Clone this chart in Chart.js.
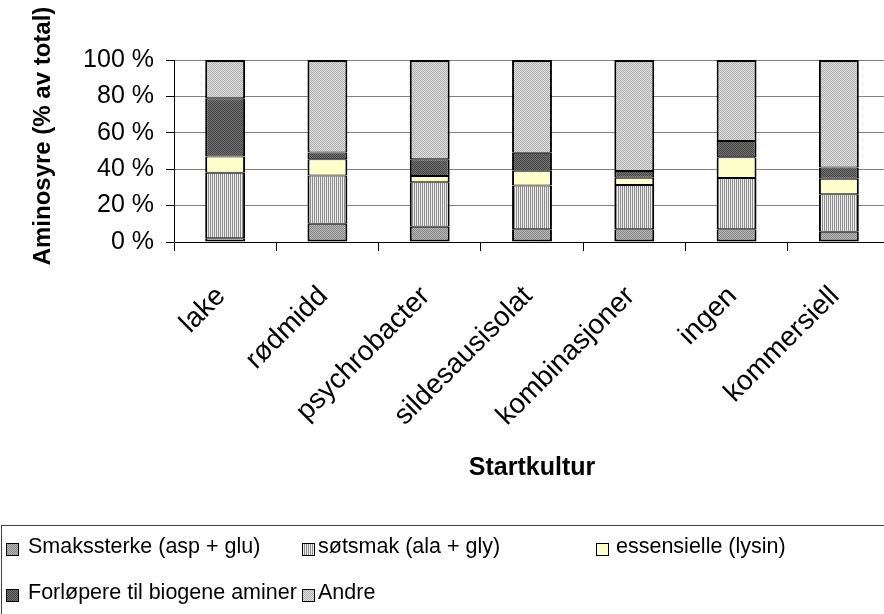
<!DOCTYPE html>
<html>
<head>
<meta charset="utf-8">
<script src="https://cdn.jsdelivr.net/npm/chart.js@4/dist/chart.umd.min.js"></script>
<style>
  html, body { margin: 0; padding: 0; background: #fff; overflow: hidden; }
  #wrap { position: relative; width: 910px; height: 614px; }
</style>
</head>
<body>
<div id="wrap"><canvas id="c" width="910" height="614"></canvas></div>
<script>
// Aminosyrefordeling per startkultur (% av total)
const categories = ['lake', 'rødmidd', 'psychrobacter', 'sildesausisolat', 'kombinasjoner', 'ingen', 'kommersiell'];
const seriesNames = ['Smakssterke (asp + glu)', 'søtsmak (ala + gly)', 'essensielle (lysin)', 'Forløpere til biogene aminer', 'Andre'];
const smakssterke = [2, 10, 8.4, 7, 7, 7, 5.7];
const sotsmak     = [36, 26.5, 24.4, 24.1, 24.3, 28.2, 20.5];
const essensielle = [9, 9, 3.5, 8.1, 4, 11.3, 8.6];
const forlopere   = [32, 3.7, 9.1, 9.9, 3.7, 9, 6.2];
const andre       = [21, 50.8, 54.6, 50.9, 61, 44.5, 59];
const yTicks = [0, 20, 40, 60, 80, 100];
const xTitle = 'Startkultur';
const yTitle = 'Aminosyre (% av total)';

const FONT = '"Liberation Sans", Arial, sans-serif';

// small repeating fills in the old office-chart style
function makePattern(cells) {
  const h = cells.length, w = cells[0].length;
  const cv = document.createElement('canvas');
  cv.width = w; cv.height = h;
  const g = cv.getContext('2d');
  for (let y = 0; y < h; y++) {
    for (let x = 0; x < w; x++) {
      g.fillStyle = cells[y][x];
      g.fillRect(x, y, 1, 1);
    }
  }
  return g.createPattern(cv, 'repeat');
}
const ctx = document.getElementById('c').getContext('2d');
const fills = [
  makePattern([['#888888', '#b8b8b8'], ['#b8b8b8', '#888888']]),
  makePattern([['#8c8c8c', '#eeeeee']]),
  '#ffffcc',
  makePattern([['#444444', '#747474'], ['#747474', '#444444']]),
  makePattern([['#b0b0b0', '#dedede'], ['#dedede', '#b0b0b0']])
];
const seriesData = [smakssterke, sotsmak, essensielle, forlopere, andre];

const datasets = seriesData.map((d, i) => ({
  label: seriesNames[i],
  data: d,
  backgroundColor: fills[i],
  borderColor: '#000',
  borderWidth: {
    left: 2, right: 2,
    top: i === seriesData.length - 1 ? 2 : 1,
    bottom: i === 0 ? 2 : 1
  },
  borderSkipped: false,
  barPercentage: 0.39,
  categoryPercentage: 1.0
}));

// rotated y-axis title
const yTitlePlugin = {
  id: 'yTitle',
  afterDraw(chart) {
    const c = chart.ctx;
    c.save();
    c.translate(43, 136);
    c.rotate(-Math.PI / 2);
    c.font = 'bold 24px ' + FONT;
    c.fillStyle = '#000';
    c.textAlign = 'center';
    c.textBaseline = 'middle';
    c.fillText(yTitle, 0, 0);
    c.restore();
  }
};

// boxed legend laid out in fixed columns below the chart
const legendPlugin = {
  id: 'boxLegend',
  afterDraw(chart) {
    const c = chart.ctx;
    const cols = [{ box: 6, text: 28 }, { box: 302, text: 318 }, { box: 596, text: 616 }];
    const rows = [550, 596];
    c.save();
    c.strokeStyle = '#404040';
    c.lineWidth = 1;
    c.strokeRect(1.5, 525.5, 1200, 300);
    c.font = '21.5px ' + FONT;
    c.textBaseline = 'middle';
    c.textAlign = 'left';
    chart.data.datasets.forEach((ds, i) => {
      const col = cols[i % 3];
      const cy = rows[Math.floor(i / 3)];
      c.fillStyle = ds.backgroundColor;
      c.fillRect(col.box, cy - 7, 13, 13);
      c.strokeStyle = '#000';
      c.strokeRect(col.box + 0.5, cy - 6.5, 12, 12);
      c.fillStyle = '#000';
      c.fillText(ds.label, col.text, cy - 3);
    });
    c.restore();
  }
};

new Chart(ctx, {
  type: 'bar',
  data: { labels: categories, datasets },
  options: {
    responsive: false,
    animation: false,
    layout: { padding: { left: 0, top: 60, right: 20, bottom: 122 } },
    plugins: { legend: { display: false }, tooltip: { enabled: false } },
    scales: {
      x: {
        stacked: true,
        ticks: {
          font: { family: FONT, size: 28 }, color: '#000',
          minRotation: 45, maxRotation: 45, autoSkip: false, padding: 29, labelOffset: -4
        },
        grid: { drawOnChartArea: false, tickColor: '#000', tickLength: 9, offset: true },
        border: { color: '#000', width: 1 },
        title: {
          display: true, text: xTitle, color: '#000',
          font: { family: FONT, size: 25, weight: 'bold' },
          padding: { top: 0, bottom: 9 }
        },
        afterFit(s) { s.height = 250; }
      },
      y: {
        stacked: true,
        min: 0, max: 100,
        afterBuildTicks(s) { s.ticks = yTicks.map(v => ({ value: v })); },
        ticks: {
          font: { family: FONT, size: 25 }, color: '#000', padding: 12,
          callback: v => v + ' %'
        },
        grid: { color: '#808080', tickColor: '#000', tickLength: 8, lineWidth: 1 },
        border: { color: '#000', width: 1 },
        afterFit(s) { s.width = 174; }
      }
    }
  },
  plugins: [yTitlePlugin, legendPlugin]
});
</script>
</body>
</html>
